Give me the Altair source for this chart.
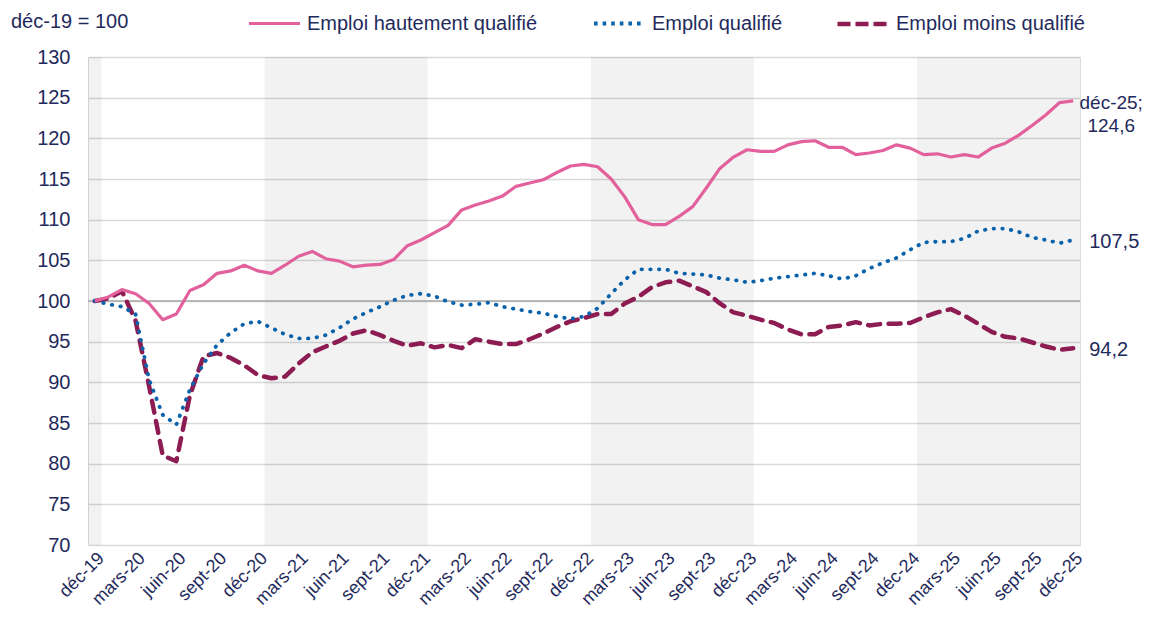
import json
import altair as alt
import pandas as pd

# ---------------- data ----------------
months = list(range(73))  # 0 = déc-19 ... 72 = déc-25
tick_labels = ["déc-19", "mars-20", "juin-20", "sept-20", "déc-20", "mars-21", "juin-21",
               "sept-21", "déc-21", "mars-22", "juin-22", "sept-22", "déc-22", "mars-23",
               "juin-23", "sept-23", "déc-23", "mars-24", "juin-24", "sept-24", "déc-24",
               "mars-25", "juin-25", "sept-25", "déc-25"]
series_names = ["Emploi hautement qualifié", "Emploi qualifié", "Emploi moins qualifié"]
title_text = "déc-19 = 100"

high = [100.0, 100.5, 101.4, 100.9, 99.7, 97.7, 98.4, 101.3, 102.0, 103.4, 103.7, 104.4,
        103.7, 103.4, 104.4, 105.5, 106.1, 105.2, 104.9, 104.2, 104.4, 104.5, 105.1, 106.8,
        107.5, 108.4, 109.3, 111.2, 111.8, 112.3, 112.9, 114.1, 114.5, 114.9, 115.8, 116.6,
        116.8, 116.5, 115.0, 112.8, 110.0, 109.4, 109.4, 110.4, 111.6, 113.9, 116.3, 117.7,
        118.6, 118.4, 118.4, 119.2, 119.6, 119.7, 118.9, 118.9, 118.0, 118.2, 118.5, 119.2,
        118.8, 118.0, 118.1, 117.7, 118.0, 117.7, 118.8, 119.4, 120.4, 121.6, 122.9, 124.4,
        124.6]
mid = [100.0, 99.6, 99.3, 98.4, 90.3, 86.0, 84.8, 89.1, 92.3, 94.6, 96.1, 97.2,
       97.5, 96.7, 95.9, 95.4, 95.4, 95.8, 96.7, 97.8, 98.6, 99.3, 100.1, 100.7,
       100.9, 100.6, 99.9, 99.5, 99.6, 99.8, 99.3, 99.0, 98.7, 98.5, 98.1, 97.8,
       98.1, 99.1, 100.9, 102.6, 103.9, 103.9, 103.9, 103.4, 103.3, 103.2, 102.8, 102.6,
       102.3, 102.5, 102.8, 103.0, 103.2, 103.4, 103.1, 102.7, 103.1, 104.0, 104.7, 105.3,
       106.3, 107.2, 107.3, 107.3, 107.7, 108.6, 108.9, 108.9, 108.5, 107.8, 107.5, 107.1,
       107.5]
low = [100.0, 100.3, 101.2, 97.6, 89.5, 81.0, 80.3, 88.4, 93.2, 93.6, 93.0, 92.1,
       90.9, 90.5, 90.7, 92.3, 93.7, 94.4, 95.1, 96.0, 96.4, 95.8, 95.1, 94.5,
       94.8, 94.3, 94.6, 94.2, 95.3, 95.0, 94.7, 94.7, 95.3, 96.0, 96.8, 97.5,
       97.9, 98.4, 98.4, 99.7, 100.5, 101.7, 102.3, 102.5, 101.8, 101.1, 99.7, 98.6,
       98.2, 97.7, 97.3, 96.5, 95.9, 95.9, 96.8, 97.0, 97.4, 97.0, 97.2, 97.2,
       97.3, 98.0, 98.6, 99.0, 98.2, 97.2, 96.2, 95.6, 95.4, 94.9, 94.4, 94.0,
       94.2]
shaded_years = [2019, 2021, 2023, 2025]
base_value = 100

# ---------------- style ----------------
FONT = "Liberation Sans"
NAVY = "#1f2a5c"
PINK = "#e2619c"
BLUE = "#0a62ab"
WINE = "#8c1c52"
W, H = 992, 488
FS = 20

x_scale = alt.Scale(domain=[-0.5, 72.5], nice=False, zero=False)
y_scale = alt.Scale(domain=[70, 130], nice=False, zero=False)

label_expr = json.dumps(tick_labels, ensure_ascii=False) + "[round(datum.value / 3)]"
x_axis = alt.Axis(values=list(range(0, 73, 3)), labelExpr=label_expr, labelAngle=-45,
                  grid=False, ticks=False, domain=False, labelFont=FONT, labelFontSize=18,
                  labelColor=NAVY, labelPadding=4, title=None, labelOverlap=False)
y_axis = alt.Axis(values=list(range(70, 131, 5)), grid=True, gridColor="#d9d9d9",
                  gridWidth=1.5, ticks=False, domain=False, labelFont=FONT,
                  labelFontSize=FS, labelColor=NAVY, labelPadding=18, title=None)

# shaded year bands (in month-index units)
band_df = pd.DataFrame({
    "start": [max(-0.5, (y - 2020) * 12 + 0.5) for y in shaded_years],
    "end": [min(72.5, (y - 2020) * 12 + 12.5) for y in shaded_years],
})
bands = alt.Chart(band_df).mark_rect(fill="#000000", fillOpacity=0.05).encode(
    x=alt.X("start:Q", scale=x_scale, axis=x_axis),
    x2="end:Q",
)

base_rule = alt.Chart(pd.DataFrame({"y": [base_value]})).mark_rule(
    color="#a6a6a6", strokeWidth=1.5
).encode(y=alt.Y("y:Q", scale=y_scale, axis=y_axis))


def line_layer(name, values, color, width, legend_x, legend_dash, dash=None, cap="butt"):
    df = pd.DataFrame({"m": months, "v": values, "s": name})
    mark_kw = dict(strokeWidth=width, strokeCap=cap, strokeJoin="round")
    if dash is not None:
        mark_kw["strokeDash"] = dash
    leg_kw = dict(orient="none", legendX=legend_x, legendY=-61, title=None,
                  symbolType="stroke", symbolSize=2601, symbolStrokeWidth=width,
                  labelFont=FONT, labelFontSize=FS, labelColor=NAVY, labelOffset=5,
                  labelLimit=0, padding=0)
    if legend_dash is not None:
        leg_kw["symbolDash"] = legend_dash
    return alt.Chart(df).mark_line(**mark_kw).encode(
        x=alt.X("m:Q", scale=x_scale),
        y=alt.Y("v:Q", scale=y_scale),
        color=alt.Color("s:N", scale=alt.Scale(domain=[name], range=[color]),
                        legend=alt.Legend(**leg_kw)),
    )


l_high = line_layer(series_names[0], high, PINK, 3.2, 159, None)
l_mid = line_layer(series_names[1], mid, BLUE, 3.8, 504, [3.6, 5.0], dash=[0.5, 8.2], cap="round")
l_low = line_layer(series_names[2], low, WINE, 4.5, 747, [13, 5], dash=[12, 8.5], cap="round")


def fmt(v):
    return f"{v:.1f}".replace(".", ",")


end_high = alt.Chart(pd.DataFrame({"m": [months[-1]], "v": [high[-1]],
                                   "t": [f"{tick_labels[-1]};\n{fmt(high[-1])}"]})).mark_text(
    align="center", baseline="alphabetic", dx=38, dy=8, lineBreak="\n", lineHeight=23,
    font=FONT, fontSize=19, color=NAVY
).encode(x=alt.X("m:Q", scale=x_scale), y=alt.Y("v:Q", scale=y_scale), text="t:N")

end_mid = alt.Chart(pd.DataFrame({"m": [months[-1]], "v": [mid[-1]], "t": [fmt(mid[-1])]})).mark_text(
    align="left", baseline="middle", dx=16, dy=2, font=FONT, fontSize=FS, color=NAVY
).encode(x=alt.X("m:Q", scale=x_scale), y=alt.Y("v:Q", scale=y_scale), text="t:N")

end_low = alt.Chart(pd.DataFrame({"m": [months[-1]], "v": [low[-1]], "t": [fmt(low[-1])]})).mark_text(
    align="left", baseline="middle", dx=16, dy=2, font=FONT, fontSize=FS, color=NAVY
).encode(x=alt.X("m:Q", scale=x_scale), y=alt.Y("v:Q", scale=y_scale), text="t:N")

title_mark = alt.Chart(pd.DataFrame({"t": [title_text]})).mark_text(
    align="left", baseline="middle", font=FONT, fontSize=FS, color=NAVY
).encode(x=alt.value(-77), y=alt.value(-35), text="t:N")

chart = alt.layer(
    bands, base_rule, l_low, l_mid, l_high, end_high, end_mid, end_low, title_mark
).resolve_scale(color="independent").properties(
    width=W, height=H,
    autosize=alt.AutoSizeParams(type="none"),
    padding={"left": 80, "top": 49, "right": 65, "bottom": 64},
).configure_view(stroke=None).configure(background="white")

chart.save("out.html", embed_options={"renderer": "svg", "actions": False})
